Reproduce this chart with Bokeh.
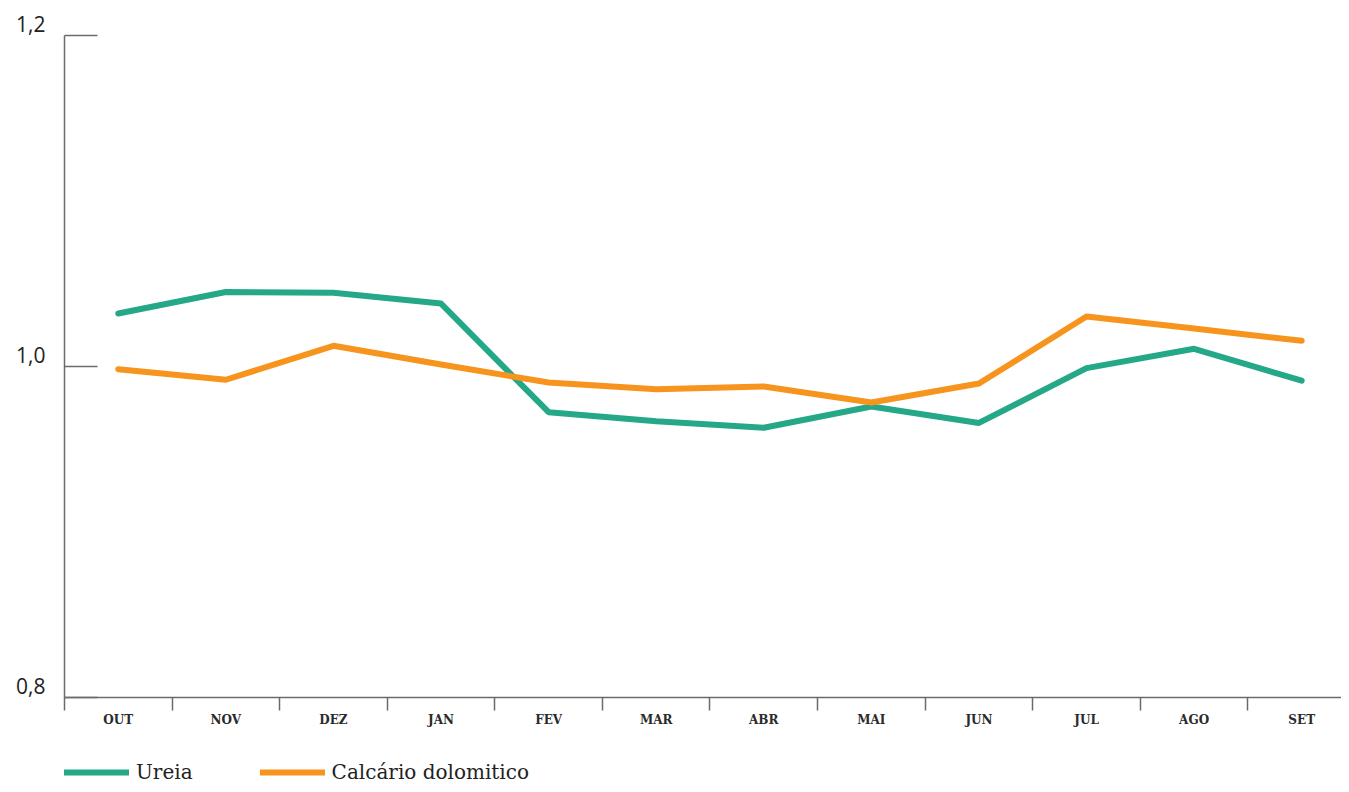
from bokeh.plotting import figure
from bokeh.models import FixedTicker, Range1d, Legend, LegendItem
from bokeh.layouts import column
from bokeh.embed import file_html
from bokeh.resources import INLINE

months = ["OUT", "NOV", "DEZ", "JAN", "FEV", "MAR", "ABR", "MAI", "JUN", "JUL", "AGO", "SET"]
ureia = [1.032, 1.045, 1.0445, 1.038, 0.9724, 0.9669, 0.9630, 0.9758, 0.9659, 0.9990, 1.0107, 0.9914]
calcario = [0.9984, 0.9920, 1.0125, 1.0012, 0.9903, 0.9863, 0.9879, 0.9782, 0.9897, 1.0302, 1.0230, 1.0155]
y_ticks = [0.8, 1.0, 1.2]
y_tick_labels = ["0,8", "1,0", "1,2"]
series_names = ["Ureia", "Calcário dolomitico"]

GREEN = "#24A888"
ORANGE = "#F7941D"
AXIS = "#6b6b6b"

xs = list(range(len(months)))

p = figure(width=1341, height=756, output_backend="svg", toolbar_location=None,
           x_range=Range1d(-0.5, 11.37), y_range=Range1d(0.8, 1.2),
           min_border_left=64, min_border_right=0, min_border_top=35,
           min_border_bottom=59)
p.outline_line_color = None
p.grid.grid_line_color = None
p.background_fill_color = None

# x axis
p.xaxis.ticker = FixedTicker(ticks=xs, minor_ticks=[i - 0.5 for i in xs])
p.xaxis.major_label_overrides = {i: m for i, m in enumerate(months)}
p.xaxis.major_tick_out = 0
p.xaxis.major_tick_in = 0
p.xaxis.minor_tick_out = 13
p.xaxis.minor_tick_in = 0
p.xaxis.minor_tick_line_color = AXIS
p.xaxis.minor_tick_line_width = 1.5
p.xaxis.axis_line_color = AXIS
p.xaxis.axis_line_width = 1.5
p.xaxis.major_label_standoff = 2
p.xaxis.major_label_text_font = "DejaVu Serif"
p.xaxis.major_label_text_font_style = "bold"
p.xaxis.major_label_text_font_size = "12px"
p.xaxis.major_label_text_color = "#2a2a2a"

# y axis (labels sit just above their tick line)
p.yaxis.ticker = FixedTicker(ticks=y_ticks, minor_ticks=[])
p.yaxis.major_label_overrides = {t: s + "\n" for t, s in zip(y_ticks, y_tick_labels)}
p.yaxis.major_label_text_font = "Open Sans"
p.yaxis.major_label_text_font_size = "21px"
p.yaxis.major_label_text_line_height = 0.8
p.yaxis.major_label_text_color = "#222222"
p.yaxis.major_label_standoff = 19
p.yaxis.major_tick_in = 33
p.yaxis.major_tick_out = 0
p.yaxis.major_tick_line_color = AXIS
p.yaxis.major_tick_line_width = 1.5
p.yaxis.minor_tick_line_color = None
p.yaxis.axis_line_color = AXIS
p.yaxis.axis_line_width = 1.5

p.line(xs, ureia, line_color=GREEN, line_width=6, line_cap="round", line_join="round")
p.line(xs, calcario, line_color=ORANGE, line_width=6, line_cap="round", line_join="round")

# legend strip below the chart (series drawn out of view; only legend shows)
lg = figure(width=1341, height=28, output_backend="svg", toolbar_location=None,
            x_range=Range1d(0, 1), y_range=Range1d(0, 0.5),
            x_axis_location=None, y_axis_location=None,
            min_border_left=64, min_border_right=0, min_border_top=0, min_border_bottom=0)
lg.outline_line_color = None
lg.grid.grid_line_color = None
lg.background_fill_color = None
l1 = lg.line(xs, ureia, line_color=GREEN, line_width=6, line_cap="round")
l2 = lg.line(xs, calcario, line_color=ORANGE, line_width=6, line_cap="round")
legend = Legend(items=[LegendItem(label=series_names[0], renderers=[l1]),
                       LegendItem(label=series_names[1], renderers=[l2])],
                orientation="horizontal", location="bottom_left", margin=0,
                glyph_width=65, glyph_height=24, label_standoff=7, spacing=67,
                padding=0, border_line_alpha=0, background_fill_alpha=0,
                label_text_font="DejaVu Serif", label_text_font_size="20px",
                label_text_color="#222222", label_height=24)
lg.add_layout(legend, "center")

open("out.html", "w").write(file_html(column(p, lg, spacing=0), INLINE))
